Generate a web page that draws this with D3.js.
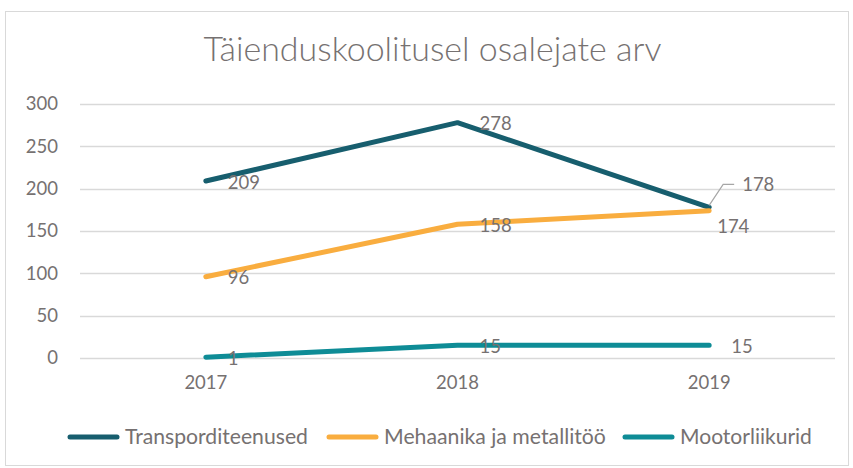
<!DOCTYPE html>
<html>
<head>
<meta charset="utf-8">
<script src="https://cdn.jsdelivr.net/npm/d3@7"></script>
<style>
  body { margin: 0; background: #fff; }
  text { font-family: Lato, "Open Sans", sans-serif; fill: #767171; }
</style>
</head>
<body>
<div id="chart"></div>
<script>
// data
const years = ["2017", "2018", "2019"];
const seriesNames = ["Transporditeenused", "Mehaanika ja metallitöö", "Mootorliikurid"];
const transport = [209, 278, 178];
const mehaanika = [96, 158, 174];
const mootor = [1, 15, 15];
const yTicks = [0, 50, 100, 150, 200, 250, 300];
const colors = ["#175e6e", "#f9ad3f", "#0e8c96"];

const W = 853, H = 468;
const margin = { top: 104, right: 18, bottom: 110, left: 80 };
const width = W - margin.left - margin.right;
const height = H - margin.top - margin.bottom;

const svg = d3.select("#chart").append("svg")
  .attr("width", W)
  .attr("height", H);

// outer chart border
svg.append("rect")
  .attr("x", 5.5).attr("y", 11.5)
  .attr("width", 843).attr("height", 454)
  .attr("fill", "none")
  .attr("stroke", "#d9d9d9");

// shrink/grow font so the text fits a measured width
function fit(sel, target) {
  const len = sel.node().getComputedTextLength();
  const fs = parseFloat(sel.attr("font-size"));
  sel.attr("font-size", fs * target / len);
}

svg.append("text")
  .attr("x", W / 2 + 6).attr("y", 61)
  .attr("text-anchor", "middle")
  .attr("font-size", 28)
  .attr("font-weight", 300)
  .text("Täienduskoolitusel osalejate arv")
  .call(fit, 458);

const g = svg.append("g").attr("transform", `translate(${margin.left},${margin.top})`);

const x = d3.scaleBand().domain(years).range([0, width]);
const y = d3.scaleLinear().domain([0, 300]).range([height, 0]);

// gridlines
g.append("g")
  .selectAll("line")
  .data(yTicks)
  .join("line")
  .attr("x1", 0).attr("x2", width)
  .attr("y1", d => Math.round(y(d)) + 0.5)
  .attr("y2", d => Math.round(y(d)) + 0.5)
  .attr("stroke", "#d9d9d9")
  .attr("stroke-width", 1.3);

// y axis labels
const yAxis = g.append("g")
  .call(d3.axisLeft(y).tickValues(yTicks).tickSize(0).tickPadding(22));
yAxis.select(".domain").remove();
yAxis.selectAll("text")
  .attr("font-size", 18.5)
  .attr("fill", "#767171")
  .style("font-family", "Lato, sans-serif");

// x axis labels
const xAxis = g.append("g")
  .attr("transform", `translate(0,${height})`)
  .call(d3.axisBottom(x).tickSize(0).tickPadding(18));
xAxis.select(".domain").remove();
xAxis.selectAll("text")
  .attr("font-size", 18.5)
  .attr("fill", "#767171")
  .style("font-family", "Lato, sans-serif");

const allSeries = [transport, mehaanika, mootor];
const cx = d => x(d) + x.bandwidth() / 2;

const line = d3.line()
  .x((d, i) => cx(years[i]))
  .y(d => y(d));

g.selectAll(".series")
  .data(allSeries)
  .join("path")
  .attr("class", "series")
  .attr("d", d => line(d))
  .attr("fill", "none")
  .attr("stroke", (d, i) => colors[i])
  .attr("stroke-width", 5)
  .attr("stroke-linecap", "round")
  .attr("stroke-linejoin", "round");

// data labels: right of the point, two moved at 2019
function labelPos(s, i) {
  if (s === 0 && i === 2) return { dx: 33, dy: -23 };
  if (s === 1 && i === 2) return { dx: 8, dy: 16 };
  return { dx: 22, dy: 1 };
}

allSeries.forEach((vals, s) => {
  vals.forEach((v, i) => {
    const px = cx(years[i]), py = y(v);
    const p = labelPos(s, i);
    if (s === 0 && i === 2) {
      g.append("path")
        .attr("d", `M${px},${py - 2}L${px + 14},${py + p.dy}L${px + 25},${py + p.dy}`)
        .attr("fill", "none")
        .attr("stroke", "#a6a6a6")
        .attr("stroke-width", 1.2);
    }
    g.append("text")
      .attr("x", px + p.dx)
      .attr("y", py + p.dy)
      .attr("dy", "0.35em")
      .attr("font-size", 18.5)
      .text(v);
  });
});

// legend
const legendX = [68, 327, 623];
const legendW = [183, 222, 132];
const legend = svg.append("g").attr("transform", "translate(0,437)");
seriesNames.forEach((name, i) => {
  legend.append("line")
    .attr("x1", legendX[i] + 2).attr("x2", legendX[i] + 49)
    .attr("y1", 0).attr("y2", 0)
    .attr("stroke", colors[i])
    .attr("stroke-width", 5)
    .attr("stroke-linecap", "round");
  legend.append("text")
    .attr("x", legendX[i] + 57)
    .attr("y", 0)
    .attr("dy", "0.35em")
    .attr("font-size", 17)
    .text(name)
    .call(fit, legendW[i]);
});
</script>
</body>
</html>
